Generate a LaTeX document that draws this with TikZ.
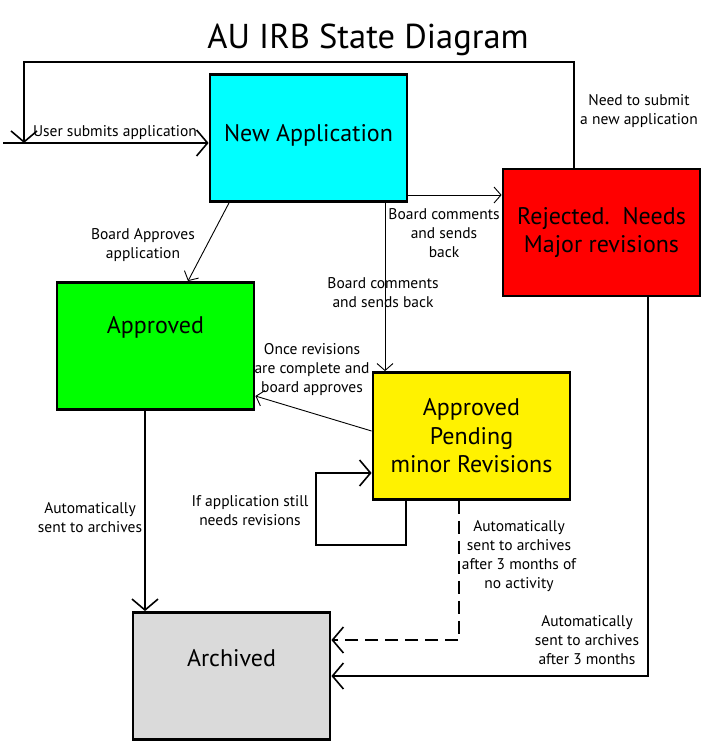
\documentclass[tikz,border=0pt]{standalone}
\usepackage{fontspec}
\setmainfont{PT Sans}
\usetikzlibrary{
    arrows.meta,
    calc,
    %positioning,
}
\definecolor{newcyan}{RGB}{0,255,255}
\definecolor{rejred}{RGB}{255,0,0}
\definecolor{appgreen}{RGB}{0,255,0}
\definecolor{pendyellow}{RGB}{255,242,0}
\definecolor{archgray}{RGB}{218,218,218}

\begin{document}
\begin{tikzpicture}[
        x=1pt, y=-1pt,
        state/.style={rectangle, draw=black, line width=2.8pt, minimum width=197pt, minimum height=127pt, align=center, inner sep=0pt, font=\fontsize{24}{28.5}\selectfont},
        note/.style={align=center, inner sep=1pt, font=\fontsize{15.5}{19}\selectfont},
        flow/.style={line width=2.6pt, -{Straight Barb[length=11pt, width=26pt, line width=1.6pt]}},
        thinflow/.style={line width=0.9pt, -{Straight Barb[length=7pt, width=16pt, line width=0.9pt]}},
        idle/.style={flow, dash pattern=on 13pt off 7pt},
        ]
        \useasboundingbox (0,0) rectangle (718,750);
        \node[font=\fontsize{34.5}{40}\selectfont, anchor=base] (TITLE) at (368,48) {AU IRB State Diagram};
        \node[state, fill=newcyan, text depth=10.5pt]  (NEW)  at (308.5,138) {New Application};
        \node[state, fill=rejred]                      (REJ)  at (601.5,232.5) {Rejected.\ \ Needs\\Major revisions};
        \node[state, fill=appgreen, text depth=42.5pt] (APP)  at (155.5,346) {Approved};
        \node[state, fill=pendyellow]                  (PEND) at (471.5,436) {Approved\\Pending\\minor Revisions};
        \node[state, fill=archgray, text depth=36.5pt] (ARCH) at (231.5,676) {Archived};
        \coordinate (SRC)  at (3,143);
        \coordinate (JOIN) at (24,143);
        \draw[flow] (SRC) -- (NEW.west |- SRC);
        \draw[flow] (REJ.north -| 574,0) -- (574,62) -- (24,62) -- (JOIN);
        \draw[thinflow] (NEW.east |- 0,195) -- (REJ.west |- 0,195);
        \draw[thinflow] (NEW.south -| 385,0) -- (PEND.north -| 385,0);
        \draw[thinflow] (NEW.south -| 229,0) -- (APP.north -| 188,0);
        \draw[thinflow] (PEND.west |- 0,431) -- (APP.east |- 0,396);
        \draw[flow] (PEND.south -| 406,0) -- (406,545) -- (316,545) -- (316,473) -- (PEND.west |- 0,473);
        \draw[idle] (PEND.south -| 459,0) -- (459,640) -- (ARCH.east |- 0,640);
        \draw[flow] (REJ.south -| 648,0) -- (648,676) -- (ARCH.east |- 0,676);
        \draw[flow] (APP.south -| 145,0) -- (ARCH.north -| 145,0);
        \node[note] (LSUB)  at (115,133)   {User submits application};
        \node[note] (LNEED) at (639,111.5) {Need to submit\\a new application};
        \node[note] (LREJ)  at (444,233)   {Board comments\\and sends\\back};
        \node[note] (LPEND) at (383,292.5) {Board comments\\and sends back};
        \node[note] (LAPP)  at (143,245.5) {Board Approves\\application};
        \node[note] (LONCE) at (312,370)   {Once revisions\\are complete and\\board approves};
        \node[note] (LSTILL) at (250,510.5) {If application still\\needs revisions};
        \node[note] (LIDLE) at (519,556.5) {Automatically\\sent to archives\\after 3 months of\\no activity};
        \node[note] (LLATE) at (587,640)   {Automatically\\sent to archives\\after 3 months};
        \node[note] (LAUTO) at (90,517.5)  {Automatically\\sent to archives};
\end{tikzpicture}
\end{document}
